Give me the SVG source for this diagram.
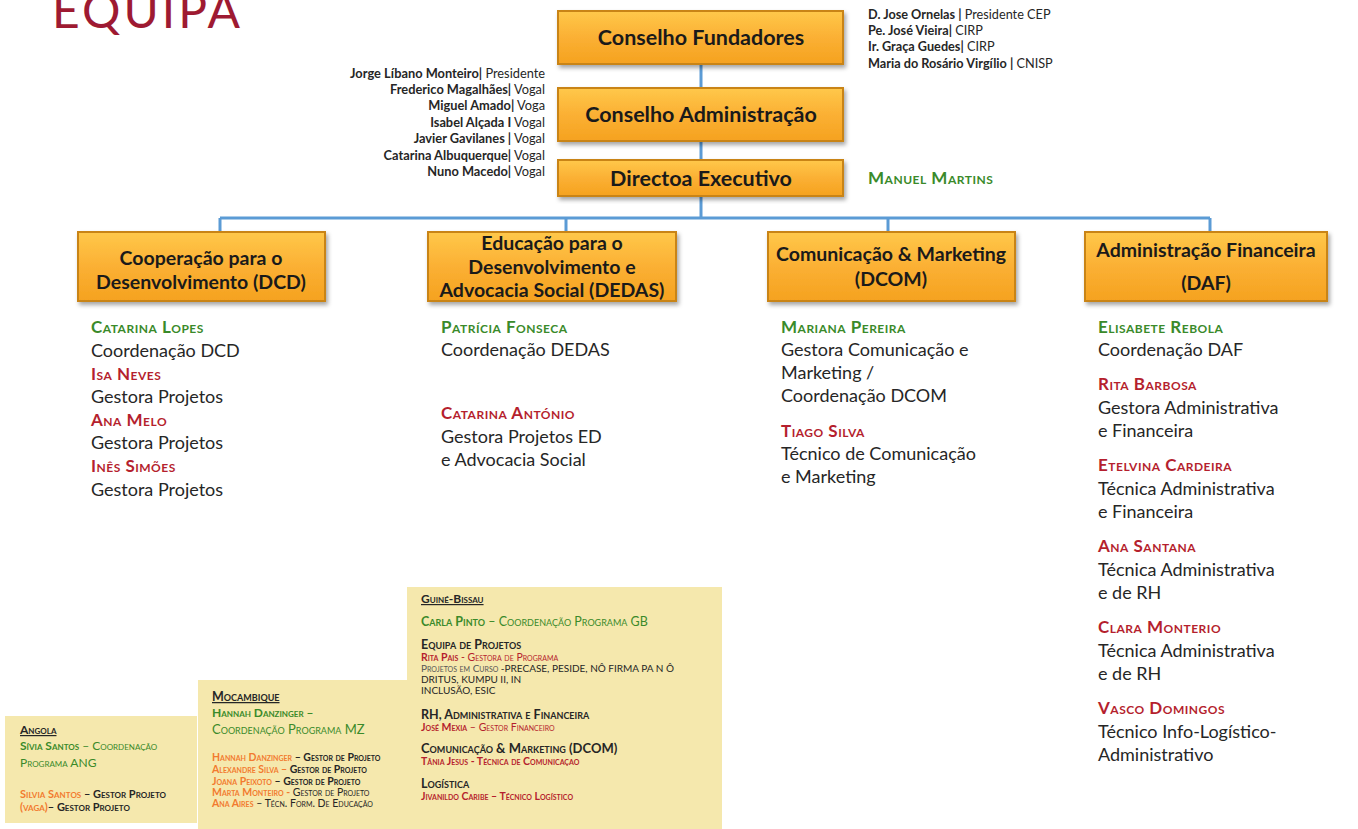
<svg xmlns="http://www.w3.org/2000/svg" width="1358" height="829" viewBox="0 0 1358 829">
<defs>
<linearGradient id="og" x1="0" y1="0" x2="0" y2="1">
<stop offset="0" stop-color="#ffc84a"/>
<stop offset="0.5" stop-color="#fbb034"/>
<stop offset="1" stop-color="#f5a21f"/>
</linearGradient>
<filter id="sh" x="-5%" y="-10%" width="115%" height="130%">
<feDropShadow dx="2" dy="3" stdDeviation="2" flood-color="#000" flood-opacity="0.35"/>
</filter>
<style>
text{font-family:Lato,"Open Sans","Liberation Sans",sans-serif;fill:#262626}
.box{fill:url(#og);stroke:#c98414;stroke-width:2;filter:url(#sh)}
.bt{font-weight:bold;font-size:21.5px;text-anchor:middle;fill:#1a1a1a}
.dt{font-weight:bold;font-size:19.5px;text-anchor:middle;fill:#1a1a1a}
.conn{stroke:#5b9bd5;stroke-width:3;fill:none}
.bd{font-size:12.8px;text-anchor:end}
.fd{font-size:12.7px}
.b{font-weight:bold}
.nm{font-size:17px;font-weight:bold;font-variant:small-caps;letter-spacing:0.5px}
.g{fill:#3a8a2a}
.r{fill:#b51f2e}
.o{fill:#f27b2f}
.tx{font-size:18px}
.panel{fill:#f5e8ad}
.sc{font-variant:small-caps}
</style>
</defs>
<rect width="1358" height="829" fill="#fff"/>
<text x="52" y="28" style="font-size:48px;letter-spacing:3px;fill:#9e1a32">EQUIPA</text>

<g id="connectors">
<line class="conn" x1="701" y1="64" x2="701" y2="88"/>
<line class="conn" x1="701" y1="141" x2="701" y2="160"/>
<line class="conn" x1="701" y1="196" x2="701" y2="218"/>
<line class="conn" x1="220" y1="218" x2="1210" y2="218"/>
<line class="conn" x1="220" y1="218" x2="220" y2="232"/>
<line class="conn" x1="566" y1="218" x2="566" y2="232"/>
<line class="conn" x1="888" y1="218" x2="888" y2="232"/>
<line class="conn" x1="1210" y1="218" x2="1210" y2="232"/>
</g>

<g id="conselho-fundadores">
<rect class="box" x="558" y="11" width="285" height="53"/>
<text class="bt" x="701" y="45">Conselho Fundadores</text>
</g>
<g id="conselho-administracao">
<rect class="box" x="558" y="88" width="285" height="53"/>
<text class="bt" x="701" y="122">Conselho Administração</text>
</g>
<g id="directoa-executivo">
<rect class="box" x="558" y="160" width="285" height="36"/>
<text class="bt" x="701" y="186">Directoa Executivo</text>
</g>

<g id="board-members">
<text class="bd" x="545" y="78"><tspan class="b">Jorge Líbano Monteiro|</tspan> Presidente</text>
<text class="bd" x="545" y="94"><tspan class="b">Frederico Magalhães|</tspan> Vogal</text>
<text class="bd" x="545" y="110"><tspan class="b">Miguel Amado|</tspan> Voga</text>
<text class="bd" x="545" y="127"><tspan class="b">Isabel Alçada I</tspan> Vogal</text>
<text class="bd" x="545" y="143"><tspan class="b">Javier Gavilanes |</tspan> Vogal</text>
<text class="bd" x="545" y="160"><tspan class="b">Catarina Albuquerque|</tspan> Vogal</text>
<text class="bd" x="545" y="176"><tspan class="b">Nuno Macedo|</tspan> Vogal</text>
</g>

<g id="founders">
<text class="fd" x="868" y="19"><tspan class="b">D. Jose Ornelas |</tspan> Presidente CEP</text>
<text class="fd" x="868" y="35"><tspan class="b">Pe. José Vieira|</tspan> CIRP</text>
<text class="fd" x="868" y="51"><tspan class="b">Ir. Graça Guedes|</tspan> CIRP</text>
<text class="fd" x="868" y="68"><tspan class="b">Maria do Rosário Virgílio |</tspan> CNISP</text>
</g>

<g id="director-name">
<text class="nm g" x="868" y="184">Manuel Martins</text>
</g>

<g id="dcd">
<rect class="box" x="78" y="232" width="247" height="69"/>
<text class="dt" x="201" y="265">Cooperação para o</text>
<text class="dt" x="201" y="289">Desenvolvimento (DCD)</text>
</g>
<g id="dedas">
<rect class="box" x="428" y="232" width="248" height="69"/>
<text class="dt" x="552" y="250">Educação para o</text>
<text class="dt" x="552" y="274">Desenvolvimento e</text>
<text class="dt" x="552" y="297">Advocacia Social (DEDAS)</text>
</g>
<g id="dcom">
<rect class="box" x="768" y="232" width="247" height="69"/>
<text class="dt" x="891" y="261">Comunicação &amp; Marketing</text>
<text class="dt" x="891" y="286">(DCOM)</text>
</g>
<g id="daf">
<rect class="box" x="1085" y="232" width="242" height="69"/>
<text class="dt" x="1206" y="257">Administração Financeira</text>
<text class="dt" x="1206" y="290">(DAF)</text>
</g>

<g id="dcd-team">
<text class="nm g" x="91" y="333">Catarina Lopes</text>
<text class="tx" x="91" y="357">Coordenação DCD</text>
<text class="nm r" x="91" y="380">Isa Neves</text>
<text class="tx" x="91" y="403">Gestora Projetos</text>
<text class="nm r" x="91" y="426">Ana Melo</text>
<text class="tx" x="91" y="449">Gestora Projetos</text>
<text class="nm r" x="91" y="472">Inês Simões</text>
<text class="tx" x="91" y="496">Gestora Projetos</text>
</g>

<g id="dedas-team">
<text class="nm g" x="441" y="333">Patrícia Fonseca</text>
<text class="tx" x="441" y="356">Coordenação DEDAS</text>
<text class="nm r" x="441" y="419">Catarina António</text>
<text class="tx" x="441" y="443">Gestora Projetos ED</text>
<text class="tx" x="441" y="466">e Advocacia Social</text>
</g>

<g id="dcom-team">
<text class="nm g" x="781" y="333">Mariana Pereira</text>
<text class="tx" x="781" y="356">Gestora Comunicação e</text>
<text class="tx" x="781" y="379">Marketing /</text>
<text class="tx" x="781" y="402">Coordenação DCOM</text>
<text class="nm r" x="781" y="437">Tiago Silva</text>
<text class="tx" x="781" y="460">Técnico de Comunicação</text>
<text class="tx" x="781" y="483">e Marketing</text>
</g>

<g id="daf-team">
<text class="nm g" x="1098" y="333">Elisabete Rebola</text>
<text class="tx" x="1098" y="356">Coordenação DAF</text>
<text class="nm r" x="1098" y="390">Rita Barbosa</text>
<text class="tx" x="1098" y="414">Gestora Administrativa</text>
<text class="tx" x="1098" y="437">e Financeira</text>
<text class="nm r" x="1098" y="471">Etelvina Cardeira</text>
<text class="tx" x="1098" y="495">Técnica Administrativa</text>
<text class="tx" x="1098" y="518">e Financeira</text>
<text class="nm r" x="1098" y="552">Ana Santana</text>
<text class="tx" x="1098" y="576">Técnica Administrativa</text>
<text class="tx" x="1098" y="599">e de RH</text>
<text class="nm r" x="1098" y="633">Clara Monterio</text>
<text class="tx" x="1098" y="657">Técnica Administrativa</text>
<text class="tx" x="1098" y="680">e de RH</text>
<text class="nm r" x="1098" y="714">Vasco Domingos</text>
<text class="tx" x="1098" y="738">Técnico Info-Logístico-</text>
<text class="tx" x="1098" y="761">Administrativo</text>
</g>

<g id="guine-bissau">
<rect class="panel" x="407" y="587" width="315" height="242"/>
<text class="b sc" x="421" y="603" font-size="12" text-decoration="underline">Guiné-Bissau</text>
<text class="sc g" x="421" y="626" font-size="12.5"><tspan class="b">Carla Pinto</tspan> – Coordenação Programa GB</text>
<text class="b sc" x="421" y="649" font-size="12.5">Equipa de Projetos</text>
<text class="sc r" x="421" y="661" font-size="10.5"><tspan class="b">Rita Pais</tspan> - Gestora de Programa</text>
<text x="421" y="672" font-size="10"><tspan class="sc" style="fill:#555">Projetos em Curso</tspan> -PRECASE, PESIDE, NÔ FIRMA PA N Ô</text>
<text x="421" y="683" font-size="10">DRITUS, KUMPU II, IN</text>
<text x="421" y="694" font-size="10">INCLUSÃO, ESIC</text>
<text class="b sc" x="421" y="719" font-size="12.5">RH, Administrativa e Financeira</text>
<text class="sc r" x="421" y="731" font-size="10.5"><tspan class="b">José Mexia</tspan> – Gestor Financeiro</text>
<text class="b sc" x="421" y="753" font-size="13">Comunicação &amp; Marketing (DCOM)</text>
<text class="sc r b" x="421" y="765" font-size="10.5">Tânia Jesus - Técnica de Comunicaçao</text>
<text class="b sc" x="421" y="788" font-size="12.5">Logística</text>
<text class="sc r b" x="421" y="800" font-size="10.5">Jivanildo Caribe – Técnico Logístico</text>
</g>

<g id="mocambique">
<rect class="panel" x="198" y="680" width="210" height="149"/>
<text class="b sc" x="212" y="701" font-size="12.5" text-decoration="underline">Mocambique</text>
<text class="b sc g" x="212" y="717" font-size="12">Hannah Danzinger –</text>
<text class="sc g" x="212" y="734" font-size="13">Coordenação Programa MZ</text>
<text class="sc b" x="212" y="761" font-size="10.5"><tspan class="o">Hannah Danzinger</tspan> – Gestor de Projeto</text>
<text class="sc b" x="212" y="773" font-size="10.5"><tspan class="o">Alexandre Silva –</tspan> Gestor de Projeto</text>
<text class="sc b" x="212" y="785" font-size="10.5"><tspan class="o">Joana Peixoto</tspan> – Gestor de Projeto</text>
<text class="sc" x="212" y="796" font-size="10.5"><tspan class="o b">Marta Monteiro -</tspan> Gestor de Projeto</text>
<text class="sc" x="212" y="807" font-size="10.5"><tspan class="o b">Ana Aires</tspan> – Técn. Form. De Educação</text>
</g>

<g id="angola">
<rect class="panel" x="5" y="716" width="192" height="107"/>
<text class="b sc" x="20" y="734" font-size="12" text-decoration="underline">Angola</text>
<text class="sc g" x="20" y="750" font-size="12"><tspan class="b">Sívia Santos</tspan> – Coordenação</text>
<text class="sc g" x="20" y="767" font-size="12">Programa ANG</text>
<text class="sc b" x="20" y="798" font-size="11"><tspan class="o">Silvia Santos</tspan> – Gestor Projeto</text>
<text class="sc b" x="20" y="811" font-size="11"><tspan class="o">(vaga)</tspan>– Gestor Projeto</text>
</g>
</svg>
